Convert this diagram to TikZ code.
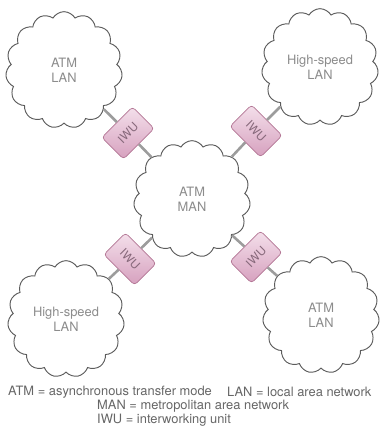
\documentclass[tikz,border=0pt]{standalone}
\usepackage{fontspec}
\setsansfont{TeX Gyre Heros}
\usetikzlibrary{shapes.symbols}
\definecolor{iwulight}{HTML}{F4E0EB}
\definecolor{iwudark}{HTML}{D6A0BE}
\definecolor{iwuedge}{HTML}{B27594}
\definecolor{iwutext}{HTML}{86687A}
\definecolor{linkgray}{HTML}{9C9C9C}
\definecolor{labelgray}{HTML}{8C8C8C}
\definecolor{cloudedge}{HTML}{5C5C5C}
\begin{document}
\begin{tikzpicture}[x=0.03cm,y=-0.03cm,
  net/.style={cloud, cloud puffs=15, cloud puff arc=120, aspect=1, draw=cloudedge, line width=0.8pt, fill=white, minimum width=3.5cm, minimum height=3.5cm, inner sep=0pt, align=center, text=labelgray, font=\sffamily\fontsize{11}{13}\selectfont},
  iwu/.style={draw=iwuedge, line width=0.6pt, rounded corners=3pt, minimum width=1.3cm, minimum height=0.92cm, inner sep=0pt, shading angle=135, top color=iwulight, bottom color=iwudark, text=iwutext, font=\sffamily\fontsize{10}{12}\selectfont},
  link/.style={linkgray, line width=2.2pt},
  legend/.style={anchor=west, inner sep=0pt, text=black!60, font=\sffamily\fontsize{11}{13}\selectfont}]
  \useasboundingbox (0,0) rectangle (382,435);
  \node[net] (man) at (192,199) {ATM\\MAN};
  \node[net] (atmnw) at (64,70) {ATM\\LAN};
  \node[net] (hsne) at (320,67) {High-speed\\LAN};
  \node[net] (hssw) at (66,319) {High-speed\\LAN};
  \node[net] (atmse) at (321,315) {ATM\\LAN};
  \node[iwu, rotate=45] (iwunw) at (128,133) {IWU};
  \node[iwu, rotate=-45] (iwune) at (256,131) {IWU};
  \node[iwu, rotate=-45] (iwusw) at (130,259) {IWU};
  \node[iwu, rotate=45] (iwuse) at (256,257) {IWU};
  \draw[link] (atmnw) -- (iwunw);
  \draw[link] (iwunw) -- (man);
  \draw[link] (hsne) -- (iwune);
  \draw[link] (iwune) -- (man);
  \draw[link] (hssw) -- (iwusw);
  \draw[link] (iwusw) -- (man);
  \draw[link] (atmse) -- (iwuse);
  \draw[link] (iwuse) -- (man);
  \node[legend] (keyatm) at (8,392) {ATM = asynchronous transfer mode};
  \node[legend] (keylan) at (227,392) {LAN = local area network};
  \node[legend] (keyman) at (97,406) {MAN = metropolitan area network};
  \node[legend] (keyiwu) at (97,420) {IWU = interworking unit};
\end{tikzpicture}
\end{document}
